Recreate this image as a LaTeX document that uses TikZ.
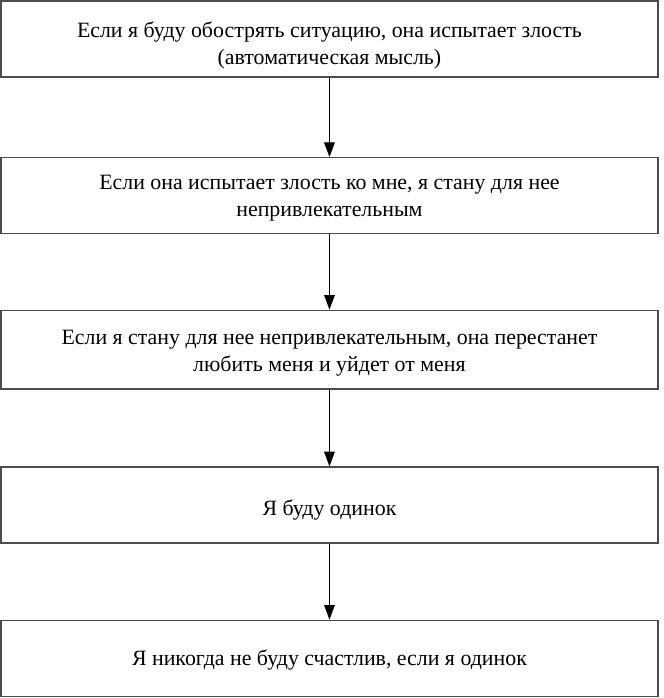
\documentclass[tikz,border=0pt]{standalone}
\usepackage{fontspec}
\setmainfont{Liberation Serif}
\usetikzlibrary{positioning,arrows.meta}

\begin{document}
\begin{tikzpicture}[boxnode/.style={rectangle, draw=black!70, line width=1pt, minimum width=492.75pt, minimum height=57pt, align=center, font=\fontsize{16.4}{20.25}\selectfont},
                    flowarrow/.style={-{Triangle[length=11pt,width=8pt]}, line width=0.8pt}]
    \useasboundingbox (0,0) rectangle (497.25pt,-523.5pt);
    % nodes
    \node[boxnode, text height=42pt]      (A)  at (247.1pt,-29.25pt)   {Если я буду обострять ситуацию, она испытает злость\\(автоматическая мысль)};
    \node[boxnode, text height=35pt]      (B)  [below=59.5pt of A]     {Если она испытает злость ко мне, я стану для нее\\непривлекательным};
    \node[boxnode, text height=36pt, minimum height=59pt]      (C)  [below=56.5pt of B]     {Если я стану для нее непривлекательным, она перестанет\\любить меня и уйдет от меня};
    \node[boxnode, text height=19pt]      (D)  [below=57.5pt of C]     {Я буду одинок};
    \node[boxnode, text height=15pt]      (E)  [below=57pt of D]       {Я никогда не буду счастлив, если я одинок};
    % lines
    \draw[flowarrow] (A.south) -- (B.north);
    \draw[flowarrow] (B.south) -- (C.north);
    \draw[flowarrow] (C.south) -- (D.north);
    \draw[flowarrow] (D.south) -- (E.north);
\end{tikzpicture}
\end{document}
